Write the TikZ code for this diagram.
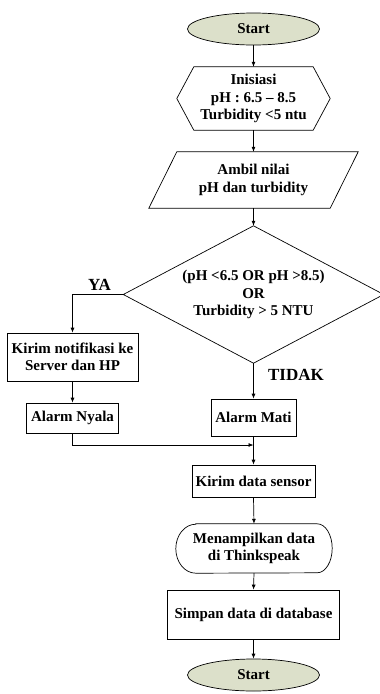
\documentclass[tikz,border=0pt]{standalone}
\usepackage{fontspec}
\setmainfont{Liberation Serif}
\usetikzlibrary{shapes.geometric,arrows.meta}
\definecolor{termcol}{HTML}{DCE0CA}
\begin{document}
\begin{tikzpicture}[x=1pt,y=-1pt,
  every node/.style={font=\fontsize{15}{17.5}\selectfont\bfseries, align=center, inner sep=0pt},
  outline/.style={draw, line width=0.7pt},
  box/.style={draw, line width=0.7pt, rectangle},
  conn/.style={line width=0.7pt, -{Latex[length=5pt,width=4pt]}},
  branch/.style={font=\fontsize{17}{19}\selectfont\bfseries},
  term/.style={draw, ellipse, fill=termcol, minimum width=132pt, minimum height=32pt, line width=0.7pt}]
\useasboundingbox (0,0) rectangle (380,694);

\node[term] (start) at (253.5,29) {Start};
\node[minimum width=153pt, minimum height=63pt] (init) at (253.5,98.5) {Inisiasi\\pH : 6.5 – 8.5\\Turbidity <5 ntu};
\draw[outline] (init.west) -- ([xshift=17pt]init.north west) -- ([xshift=-17pt]init.north east) -- (init.east) -- ([xshift=-17pt]init.south east) -- ([xshift=17pt]init.south west) -- cycle;

\node[minimum width=209pt, minimum height=56pt] (ambil) at (253.5,180) {Ambil nilai\\pH dan turbidity};
\draw[outline] ([xshift=28pt]ambil.north west) -- (ambil.north east) -- ([xshift=-28pt]ambil.south east) -- (ambil.south west) -- cycle;

\node[minimum width=260pt, minimum height=137pt] (dec) at (253.5,294.5) {(pH <6.5 OR pH >8.5)\\OR\\Turbidity > 5 NTU};
\draw[outline] (dec.west) -- (dec.north) -- (dec.east) -- (dec.south) -- cycle;

\node[box, minimum width=131pt, minimum height=48pt] (notif) at (72.5,357) {Kirim notifikasi ke\\Server dan HP};
\node[box, minimum width=92pt, minimum height=30pt] (nyala) at (72.5,418) {Alarm Nyala};
\node[box, minimum width=85pt, minimum height=37pt] (mati) at (253.5,417.5) {Alarm Mati};
\node[box, minimum width=123pt, minimum height=32pt] (kirim) at (253.5,481) {Kirim data sensor};

\node[minimum width=156pt, minimum height=49pt] (tampil) at (254,548.5) {Menampilkan data\\di Thinkspeak};
\draw[outline] ([xshift=20pt]tampil.north west) -- ([xshift=-15pt]tampil.north east)
  arc[start angle=90, end angle=-90, x radius=15pt, y radius=24.5pt]
  -- ([xshift=20pt]tampil.south west)
  arc[start angle=270, end angle=90, x radius=20pt, y radius=24.5pt] -- cycle;

\node[box, minimum width=172pt, minimum height=49pt] (simpan) at (253.5,614.5) {Simpan data di database};
\node[term] (end) at (253.5,675) {Start};

\node[branch] (ya) at (99.5,285) {YA};
\node[branch] (tidak) at (296,375) {TIDAK};

\coordinate (join) at (253.5,445);

\draw[conn] (start.south) -- (init.north);
\draw[conn] (init.south) -- (ambil.north);
\draw[conn] (ambil.south) -- (dec.north);
\draw[conn] (dec.west) -| (notif.north);
\draw[conn] (notif.south) -- (nyala.north);
\draw[conn] (nyala.south) |- (join);
\draw[conn] (dec.south) -- (mati.north);
\draw[conn] (mati.south) -- (kirim.north);
\draw[conn] (kirim.south) -- (tampil.north);
\draw[conn] (tampil.south) -- (simpan.north);
\draw[conn] (simpan.south) -- (end.north);
\end{tikzpicture}
\end{document}
